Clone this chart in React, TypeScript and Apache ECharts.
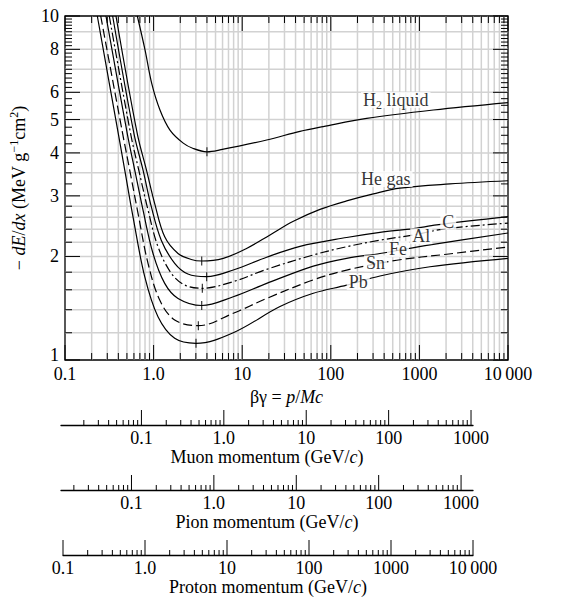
import React, { useEffect, useRef } from 'react';
import * as echarts from 'echarts';

const FONT = '"Liberation Serif", "Times New Roman", Times, serif';
const FS = 18;

// ---- main axis labels ----
const bgTickPowers = [-1, 0, 1, 2, 3, 4];
const bgTickLabels = ['0.1', '1.0', '10', '100', '1000', '10\u2009000'];
const lossTickValues = [1, 2, 3, 4, 5, 6, 8, 10];
const lossTickLabels = ['1', '2', '3', '4', '5', '6', '8', '10'];
const lossGridValues = [1.2, 1.4, 1.6, 1.8, 2, 2.2, 2.4, 2.6, 2.8, 3, 3.5, 4, 5, 6, 7, 8, 9];

// ---- momentum axes ----
const muonMass = 0.10566;
const pionMass = 0.13957;
const momentumPowers = [-1, 0, 1, 2, 3, 4];
const momentumLabels = ['0.1', '1.0', '10', '100', '1000', '10\u2009000'];

// ---- curves: βγ and -dE/dx (MeV g^-1 cm^2) ----
const h2BetaGamma = [0.655, 0.8, 0.952, 1.18, 1.53, 2.16, 2.8, 4.0, 5.6, 18.9, 44.9, 82, 254, 1435, 10000];
const h2Loss = [10, 7.97, 6.37, 5.33, 4.66, 4.27, 4.12, 4.03, 4.08, 4.36, 4.62, 4.77, 5.04, 5.33, 5.6];

const heBetaGamma = [0.376, 0.655, 0.83, 1.029, 1.335, 1.886, 2.66, 3.49, 6.12, 11.2, 20.6, 37.8, 75.5, 151, 302, 603, 2213, 10000];
const heLoss = [10, 4.54, 3.57, 2.85, 2.28, 2.04, 1.96, 1.94, 1.975, 2.11, 2.31, 2.53, 2.74, 2.9, 3.04, 3.16, 3.25, 3.32];

const cBetaGamma = [0.345, 0.601, 0.759, 0.942, 1.22, 1.73, 2.44, 3.97, 7.93, 18.9, 44.9, 151, 359, 853, 1566, 10000];
const cLoss = [10, 4.54, 3.57, 2.79, 2.23, 1.91, 1.778, 1.747, 1.826, 1.99, 2.14, 2.27, 2.35, 2.41, 2.47, 2.61];

const alBetaGamma = [0.316, 0.551, 0.679, 0.865, 1.121, 1.585, 2.24, 3.55, 7.93, 18.9, 63.5, 151, 359, 853, 2032, 10000];
const alLoss = [10, 4.54, 3.57, 2.73, 2.135, 1.786, 1.652, 1.616, 1.69, 1.835, 2.02, 2.135, 2.23, 2.31, 2.41, 2.5];

const feBetaGamma = [0.29, 0.505, 0.612, 0.759, 0.985, 1.335, 1.886, 3.49, 7.93, 18.9, 63.5, 151, 359, 1318, 10000];
const feLoss = [10, 4.54, 3.57, 2.73, 2.04, 1.67, 1.51, 1.44, 1.527, 1.67, 1.875, 1.975, 2.04, 2.16, 2.34];

const snBetaGamma = [0.253, 0.448, 0.537, 0.667, 0.865, 1.172, 1.73, 3.2, 7.93, 18.9, 63.5, 151, 555, 2032, 10000];
const snLoss = [10, 4.54, 3.57, 2.67, 1.91, 1.494, 1.307, 1.258, 1.367, 1.51, 1.71, 1.826, 1.95, 2.03, 2.13];

const pbBetaGamma = [0.2316, 0.4, 0.472, 0.585, 0.794, 1.121, 1.73, 3.01, 7.93, 26.7, 63.5, 151, 359, 1318, 10000];
const pbLoss = [10, 4.54, 3.57, 2.61, 1.747, 1.336, 1.156, 1.118, 1.2, 1.43, 1.563, 1.65, 1.755, 1.867, 1.975];

// minimum-ionization marks
const minBetaGamma = [4.0, 3.49, 3.97, 3.55, 3.49, 3.2, 3.01];
const minLoss = [4.03, 1.94, 1.747, 1.616, 1.44, 1.258, 1.118];

// curve labels
const labelNames = ['H2 liquid', 'He gas', 'C', 'Al', 'Fe', 'Sn', 'Pb'];
const labelBetaGamma = [541, 418, 2118, 1050, 573, 320, 204];
const labelLoss = [5.7, 3.36, 2.525, 2.29, 2.1, 1.91, 1.684];

const zip = (a: number[], b: number[]) => a.map((x, i) => [x, b[i]]);

function decadeTicks(min: number, max: number, inner = false) {
  const out: number[][] = [];
  const d0 = Math.floor(Math.log10(min)) - 1;
  const d1 = Math.ceil(Math.log10(max)) + 1;
  for (let d = d0; d <= d1; d++) {
    for (let k = 1; k <= 9; k++) {
      const v = parseFloat((k * Math.pow(10, d)).toPrecision(6));
      const lo = inner ? v > min * 1.0001 : v >= min * 0.9999;
      const hi = inner ? v < max * 0.9999 : v <= max * 1.0001;
      if (lo && hi) out.push([v, k === 1 ? 1 : 0]);
    }
  }
  return out;
}

function lossMinorTicks() {
  const out: number[] = [];
  const add = (a: number, b: number, s: number) => {
    for (let v = a; v < b - 1e-9; v += s) out.push(Math.round(v * 100) / 100);
  };
  add(1, 3, 0.2);
  add(3, 6, 0.25);
  add(6, 10, 0.2);
  out.push(10);
  return out;
}

const labelFor = (powers: number[], labels: string[]) => (v: number) => {
  const e = Math.log10(v);
  const r = Math.round(e);
  if (Math.abs(e - r) > 1e-6) return '';
  const i = powers.indexOf(r);
  return i >= 0 ? labels[i] : '';
};

const black = '#000';

export default function App() {
  const ref = useRef<HTMLDivElement>(null);

  useEffect(() => {
    if (!ref.current) return;
    const chart = echarts.init(ref.current, undefined, { renderer: 'svg' });

    const curves = [
      { name: 'H2 liquid', d: zip(h2BetaGamma, h2Loss), dash: 'solid' as any },
      { name: 'He gas', d: zip(heBetaGamma, heLoss), dash: 'solid' as any },
      { name: 'C', d: zip(cBetaGamma, cLoss), dash: 'solid' as any },
      { name: 'Al', d: zip(alBetaGamma, alLoss), dash: [9, 3, 2, 3] as any },
      { name: 'Fe', d: zip(feBetaGamma, feLoss), dash: 'solid' as any },
      { name: 'Sn', d: zip(snBetaGamma, snLoss), dash: [9, 4] as any },
      { name: 'Pb', d: zip(pbBetaGamma, pbLoss), dash: 'solid' as any },
    ];

    const textBase = { fontFamily: FONT, fontSize: FS, color: black };

    const mainTickSeries: any[] = [
      {
        type: 'custom', name: 'vgrid', xAxisIndex: 0, yAxisIndex: 0, silent: true, z: 1,
        data: decadeTicks(0.1, 10000, true).map(t => [t[0], 1]),
        renderItem: (params: any, api: any) => {
          const cs = params.coordSys;
          const x = api.coord([api.value(0), 1])[0];
          return { type: 'line', shape: { x1: x, y1: cs.y, x2: x, y2: cs.y + cs.height }, style: { stroke: '#d2d2d2', lineWidth: 1.5 } };
        },
      },
      {
        type: 'custom', name: 'hgrid', xAxisIndex: 0, yAxisIndex: 0, silent: true, z: 1,
        data: lossGridValues.map(v => [1, v]),
        renderItem: (params: any, api: any) => {
          const cs = params.coordSys;
          const y = api.coord([1, api.value(1)])[1];
          return { type: 'line', shape: { x1: cs.x, y1: y, x2: cs.x + cs.width, y2: y }, style: { stroke: '#d2d2d2', lineWidth: 1.5 } };
        },
      },
      {
        type: 'custom', name: 'xticks', xAxisIndex: 0, yAxisIndex: 0, silent: true, z: 6,
        data: decadeTicks(0.1, 10000).map(t => [t[0], 1, t[1]]),
        renderItem: (params: any, api: any) => {
          const cs = params.coordSys;
          const x = api.coord([api.value(0), 1])[0];
          const len = api.value(2) ? 15 : 7;
          const b = cs.y + cs.height;
          return {
            type: 'group', children: [
              { type: 'line', shape: { x1: x, y1: b, x2: x, y2: b - len }, style: { stroke: black, lineWidth: 1 } },
              { type: 'line', shape: { x1: x, y1: cs.y, x2: x, y2: cs.y + len }, style: { stroke: black, lineWidth: 1 } },
            ],
          };
        },
      },
      {
        type: 'custom', name: 'yticks', xAxisIndex: 0, yAxisIndex: 0, silent: true, z: 6,
        data: lossMinorTicks().map(v => [1, v, lossTickValues.indexOf(v) >= 0 ? 1 : 0]),
        renderItem: (params: any, api: any) => {
          const cs = params.coordSys;
          const y = api.coord([1, api.value(1)])[1];
          const len = api.value(2) ? 15 : 7;
          const r = cs.x + cs.width;
          return {
            type: 'group', children: [
              { type: 'line', shape: { x1: cs.x, y1: y, x2: cs.x + len, y2: y }, style: { stroke: black, lineWidth: 1 } },
              { type: 'line', shape: { x1: r, y1: y, x2: r - len, y2: y }, style: { stroke: black, lineWidth: 1 } },
            ],
          };
        },
      },
      {
        type: 'custom', name: 'ylabels', xAxisIndex: 0, yAxisIndex: 0, silent: true, z: 6, clip: false,
        data: lossTickValues.map(v => [0.1, v]),
        renderItem: (params: any, api: any) => {
          const p = api.coord([0.1, api.value(1)]);
          const idx = params.dataIndex;
          return {
            type: 'text', x: p[0] - 6, y: idx === 0 ? p[1] - 5 : p[1],
            style: { text: lossTickLabels[idx], fontFamily: FONT, fontSize: FS, fill: black, align: 'right', verticalAlign: 'middle' },
          };
        },
      },
    ];

    const curveSeries = curves.map(c => ({
      type: 'line', name: c.name, xAxisIndex: 0, yAxisIndex: 0, data: c.d,
      symbol: 'none', showSymbol: false, smooth: 0.35, silent: true, z: 3,
      lineStyle: { color: black, width: 1.2, type: c.dash },
    }));

    const markSeries = {
      type: 'scatter', name: 'minima', xAxisIndex: 0, yAxisIndex: 0, silent: true, z: 4,
      data: zip(minBetaGamma, minLoss), symbol: 'rect', symbolSize: [1.2, 9],
      itemStyle: { color: black },
    };

    const labelSeries = {
      type: 'scatter', name: 'labels', xAxisIndex: 0, yAxisIndex: 0, silent: true, z: 5,
      data: labelNames.map((n, i) => ({ name: n, value: [labelBetaGamma[i], labelLoss[i]] })),
      symbolSize: 0,
      label: {
        show: true, position: 'inside',
        formatter: (p: any) => (p.name === 'H2 liquid' ? '{n|H}{s|2}{n| liquid}' : `{n|${p.name}}`),
        backgroundColor: '#fff', padding: [0, 2],
        rich: {
          n: { fontFamily: FONT, fontSize: FS, color: black, lineHeight: 16 },
          s: { fontFamily: FONT, fontSize: 12, color: black, lineHeight: 12, padding: [10, 0, 0, 0] },
        },
      },
    };

    const momentumAxes = [
      { name: 'Muon', min: muonMass * 0.1, max: muonMass * 10000, left: 61, width: 412, lineY: 425 },
      { name: 'Pion', min: pionMass * 0.1, max: pionMass * 10000, left: 61, width: 412, lineY: 490 },
      { name: 'Proton', min: 0.1, max: 10000, left: 63, width: 410, lineY: 555 },
    ];

    const grids: any[] = [
      { left: 65, top: 16, width: 443, height: 344, show: true, borderColor: black, borderWidth: 1.3, backgroundColor: 'transparent', outerBoundsMode: 'none', containLabel: false },
      ...momentumAxes.map(a => ({ left: a.left, top: a.lineY - 15, width: a.width, height: 15, outerBoundsMode: 'none', containLabel: false })),
    ];

    const rich = {
      n: { fontFamily: FONT, fontSize: FS, color: black, lineHeight: 20 },
      i: { fontFamily: FONT, fontSize: FS, color: black, fontStyle: 'italic', lineHeight: 20 },
      s: { fontFamily: FONT, fontSize: 12, color: black, lineHeight: 12, padding: [0, 0, 10, 0] },
    };

    const xAxes: any[] = [
      {
        type: 'log', logBase: 10, min: 0.1, max: 10000, gridIndex: 0,
        axisLine: { show: false }, axisTick: { show: false }, splitLine: { show: false },
        axisLabel: { ...textBase, margin: 5, formatter: labelFor(bgTickPowers, bgTickLabels) },
        name: '{n|βγ = }{i|p}{n|/}{i|Mc}', nameLocation: 'middle', nameGap: 21,
        nameTextStyle: { rich },
      },
      ...momentumAxes.map((a, k) => ({
        type: 'log', logBase: 10, min: a.min, max: a.max, gridIndex: k + 1, position: 'bottom',
        axisLine: { show: true, lineStyle: { color: black, width: 1.3 } },
        axisTick: { show: false }, splitLine: { show: false },
        axisLabel: { ...textBase, margin: 4, showMinLabel: a.name === 'Proton', showMaxLabel: a.name === 'Proton', formatter: labelFor(momentumPowers, momentumLabels) },
        name: `{n|${a.name} momentum (GeV/}{i|c}{n|)}`, nameLocation: 'middle', nameGap: 17,
        nameTextStyle: { rich },
      })),
    ];

    const yAxes: any[] = [
      {
        type: 'log', logBase: 10, min: 1, max: 10, gridIndex: 0,
        axisLine: { show: false }, axisTick: { show: false }, splitLine: { show: false }, axisLabel: { show: false },
        name: '{n|− }{i|dE}{n|/}{i|dx}{n| (MeV g}{s|−1}{n|cm}{s|2}{n|)}', nameLocation: 'middle', nameGap: 36, nameRotate: 90,
        nameTextStyle: { rich },
      },
      ...momentumAxes.map((_, k) => ({ type: 'value', min: 0, max: 1, gridIndex: k + 1, show: false })),
    ];

    const momentumTickSeries = momentumAxes.map((a, k) => ({
      type: 'custom', name: a.name + ' ticks', xAxisIndex: k + 1, yAxisIndex: k + 1, silent: true, clip: false,
      data: decadeTicks(a.min, a.max).map(t => [t[0], 0, t[1]]),
      renderItem: (params: any, api: any) => {
        const p = api.coord([api.value(0), 0]);
        const len = api.value(2) ? 15 : 5;
        return { type: 'line', shape: { x1: p[0], y1: p[1], x2: p[0], y2: p[1] - len }, style: { stroke: black, lineWidth: 1 } };
      },
    }));

    chart.setOption({
      animation: false,
      backgroundColor: '#fff',
      textStyle: { fontFamily: FONT },
      grid: grids,
      xAxis: xAxes,
      yAxis: yAxes,
      series: [...mainTickSeries, ...curveSeries, markSeries, labelSeries, ...momentumTickSeries],
    });

    return () => chart.dispose();
  }, []);

  return <div ref={ref} style={{ position: 'fixed', left: 0, top: 0, width: 561, height: 605, background: '#fff' }} />;
}
